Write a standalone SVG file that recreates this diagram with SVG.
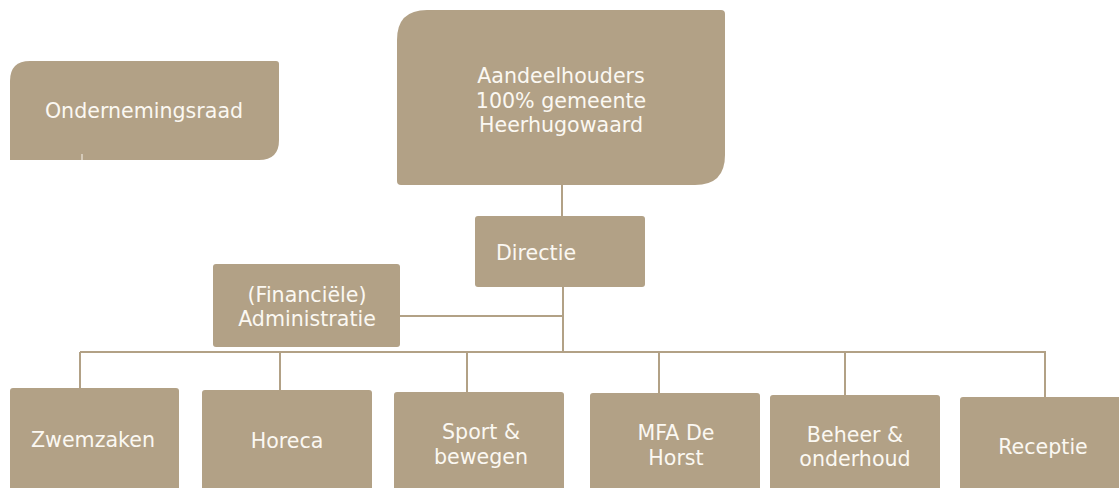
<svg xmlns="http://www.w3.org/2000/svg" width="1119" height="488" viewBox="0 0 1119 488">
<style>
.box{fill:#b2a186}
.t{font-family:"DejaVu Sans","Verdana",sans-serif;font-size:20.6px;fill:#fbf8f2;text-anchor:middle}
.c{stroke:#b2a186;stroke-width:2;fill:none}
</style>
<rect width="1119" height="488" fill="#ffffff"/>
<g id="connectors">
<path class="c" d="M562 185V216"/>
<path class="c" d="M563 287V352"/>
<path class="c" d="M400 316H563"/>
<path class="c" d="M80 352H1046"/>
<path class="c" d="M80 352V388M280 352V390M467 352V392M659 352V393M845 352V395M1045 352V397"/>
</g>
<g id="ondernemingsraad">
<path class="box" d="M30 61H276Q279 61 279 64V140Q279 160 259 160H10V81Q10 61 30 61Z"/>
<line x1="82" y1="154" x2="82" y2="160" stroke="#f7f3ec" stroke-width="1"/>
<text class="t" x="144" y="118">Ondernemingsraad</text>
</g>
<g id="aandeelhouders">
<path class="box" d="M427 10H721Q725 10 725 14V155Q725 185 695 185H401Q397 185 397 181V40Q397 10 427 10Z"/>
<text class="t" x="561" y="83">Aandeelhouders</text>
<text class="t" x="561" y="107.5">100% gemeente</text>
<text class="t" x="561" y="132">Heerhugowaard</text>
</g>
<g id="directie">
<rect class="box" x="475" y="216" width="170" height="71" rx="3"/>
<text class="t" x="496" y="260" style="text-anchor:start">Directie</text>
</g>
<g id="administratie">
<rect class="box" x="213" y="264" width="187" height="83" rx="3"/>
<text class="t" x="307" y="302">(Financiële)</text>
<text class="t" x="307" y="326">Administratie</text>
</g>
<g id="zwemzaken">
<rect class="box" x="10" y="388" width="169" height="104" rx="3"/>
<text class="t" x="93" y="447">Zwemzaken</text>
</g>
<g id="horeca">
<rect class="box" x="202" y="390" width="170" height="102" rx="3"/>
<text class="t" x="287" y="448">Horeca</text>
</g>
<g id="sport">
<rect class="box" x="394" y="392" width="170" height="100" rx="3"/>
<text class="t" x="481" y="439">Sport &amp;</text>
<text class="t" x="481" y="464">bewegen</text>
</g>
<g id="mfa">
<rect class="box" x="590" y="393" width="170" height="99" rx="3"/>
<text class="t" x="676" y="440">MFA De</text>
<text class="t" x="676" y="465">Horst</text>
</g>
<g id="beheer">
<rect class="box" x="770" y="395" width="170" height="97" rx="3"/>
<text class="t" x="855" y="442">Beheer &amp;</text>
<text class="t" x="855" y="466">onderhoud</text>
</g>
<g id="receptie">
<rect class="box" x="960" y="397" width="170" height="95" rx="3"/>
<text class="t" x="1043" y="454">Receptie</text>
</g>
</svg>
